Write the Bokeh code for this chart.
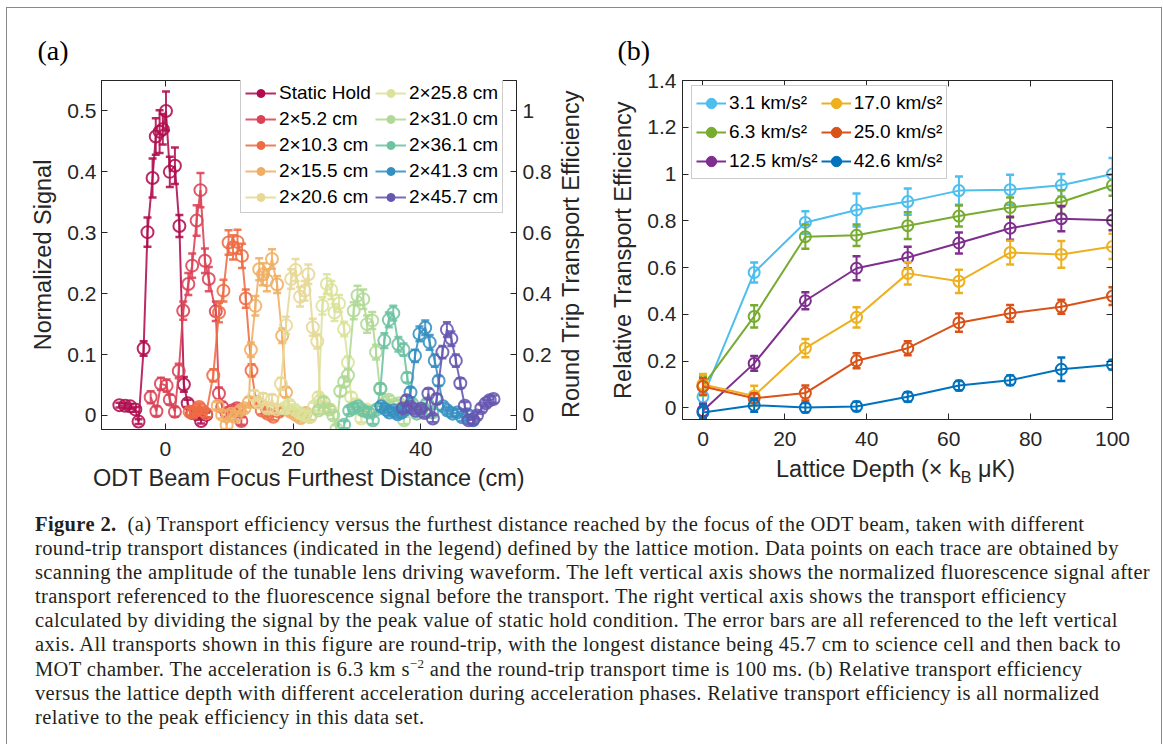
import math
from bokeh.plotting import figure
from bokeh.models import (Range1d, LinearAxis, FixedTicker, CustomJSTickFormatter, Legend,
                          LegendItem, Div, ColumnDataSource)
from bokeh.layouts import column, row
from bokeh.embed import file_html
from bokeh.resources import INLINE

# ---------------- data: panel (a) ----------------
a_names = ["Static Hold", "2\u00d75.2 cm", "2\u00d710.3 cm", "2\u00d715.5 cm", "2\u00d720.6 cm",
           "2\u00d725.8 cm", "2\u00d731.0 cm", "2\u00d736.1 cm", "2\u00d741.3 cm", "2\u00d745.7 cm"]
a_colors = ["#b00c4f", "#dc4256", "#ee6c44", "#efae63", "#e7d896",
            "#dbe39a", "#b1d995", "#6cc3a2", "#3590c2", "#6656b0"]

x_sh = [-7.2, -6.3, -5.5, -4.7, -4.2, -3.4, -2.8, -2.0, -1.5, -0.9, -0.4, 0.1, 0.7, 1.5, 2.2, 2.9, 3.5, 4.2, 4.9, 5.6, 6.4]
y_sh = [0.017, 0.016, 0.015, 0.010, -0.010, 0.110, 0.301, 0.390, 0.458, 0.466, 0.470, 0.500, 0.400, 0.410, 0.311, 0.051, 0.020, 0.004, 0.002, -0.009, 0.001]
e_sh = [0.004, 0.004, 0.004, 0.004, 0.004, 0.012, 0.024, 0.032, 0.030, 0.035, 0.025, 0.032, 0.025, 0.030, 0.018, 0.012, 0.006, 0.005, 0.004, 0.004, 0.004]

x_52 = [-2.3, -1.4, -0.7, 0.2, 0.7, 1.5, 2.1, 2.8, 3.6, 4.2, 4.9, 5.5, 6.2, 6.8, 7.9, 8.4, 8.9, 9.6, 10.4, 11.2, 11.9]
y_52 = [0.030, 0.007, 0.052, 0.049, 0.026, 0.006, 0.073, 0.172, 0.216, 0.246, 0.320, 0.370, 0.254, 0.224, 0.171, 0.036, 0.014, 0.004, 0.008, 0.012, -0.009]
e_52 = [0.010, 0.008, 0.010, 0.010, 0.008, 0.008, 0.012, 0.015, 0.018, 0.020, 0.025, 0.028, 0.020, 0.020, 0.016, 0.010, 0.008, 0.006, 0.006, 0.006, 0.006]

x_103 = [3.8, 4.3, 4.8, 5.3, 5.8, 6.4, 7.5, 8.4, 9.1, 9.9, 10.6, 11.3, 12.0, 12.6, 13.5, 14.2, 15.1, 16.0, 16.9, 17.8]
y_103 = [0.006, 0.004, 0.009, 0.014, 0.008, 0.003, 0.066, 0.169, 0.205, 0.284, 0.276, 0.285, 0.262, 0.192, 0.074, 0.022, 0.008, 0.003, -0.002, 0.006]
e_103 = [0.006, 0.006, 0.006, 0.006, 0.006, 0.006, 0.010, 0.016, 0.018, 0.020, 0.020, 0.020, 0.020, 0.015, 0.010, 0.008, 0.006, 0.006, 0.006, 0.006]

x_155 = [8.2, 8.9, 9.6, 10.3, 11.0, 11.7, 12.4, 13.1, 13.4, 14.1, 14.7, 15.3, 15.9, 16.7, 17.5, 18.3, 18.9, 19.6, 20.4, 21.2, 22.0, 22.7]
y_155 = [0.016, 0.001, -0.016, 0.003, -0.002, 0.008, 0.012, 0.022, 0.108, 0.180, 0.240, 0.232, 0.222, 0.257, 0.215, 0.131, 0.038, 0.006, 0.001, -0.004, 0.004, -0.002]
e_155 = [0.006, 0.006, 0.006, 0.006, 0.006, 0.006, 0.006, 0.008, 0.012, 0.016, 0.018, 0.018, 0.018, 0.016, 0.014, 0.012, 0.008, 0.006, 0.006, 0.006, 0.006, 0.006]

x_206 = [13.9, 14.6, 15.3, 16.0, 16.7, 17.4, 18.1, 18.9, 19.7, 20.4, 21.1, 21.8, 22.4, 23.1, 23.8, 24.3, 25.0, 25.8]
y_206 = [0.033, 0.021, 0.028, 0.012, 0.026, 0.010, 0.052, 0.148, 0.224, 0.239, 0.195, 0.205, 0.232, 0.145, 0.122, 0.025, 0.013, 0.010]
e_206 = [0.008, 0.006, 0.008, 0.006, 0.008, 0.006, 0.010, 0.014, 0.016, 0.018, 0.016, 0.016, 0.016, 0.014, 0.012, 0.008, 0.006, 0.006]

x_258 = [18.6, 19.4, 20.2, 21.0, 21.8, 22.6, 23.3, 24.0, 24.6, 25.3, 26.0, 26.5, 27.2, 28.0, 28.6, 29.1, 29.9, 30.7, 31.5]
y_258 = [0.012, 0.018, 0.010, 0.004, 0.000, -0.003, 0.015, 0.030, 0.180, 0.216, 0.206, 0.169, 0.184, 0.142, 0.087, 0.030, 0.019, -0.005, 0.010]
e_258 = [0.006, 0.006, 0.006, 0.006, 0.006, 0.006, 0.006, 0.008, 0.014, 0.016, 0.015, 0.014, 0.014, 0.012, 0.010, 0.008, 0.006, 0.006, 0.006]

x_310 = [24.0, 24.8, 25.6, 26.3, 26.8, 27.4, 28.0, 28.6, 29.5, 30.1, 31.0, 31.6, 32.4, 33.0, 33.6, 34.3, 35.0, 35.8, 36.6, 37.4]
y_310 = [0.008, 0.022, 0.010, 0.000, -0.022, 0.040, 0.055, 0.066, 0.172, 0.197, 0.191, 0.150, 0.156, 0.104, 0.044, 0.020, 0.026, 0.018, 0.020, -0.008]
e_310 = [0.006, 0.008, 0.006, 0.006, 0.006, 0.008, 0.008, 0.010, 0.014, 0.016, 0.016, 0.014, 0.014, 0.012, 0.008, 0.006, 0.006, 0.006, 0.006, 0.006]

x_361 = [28.0, 28.8, 29.5, 30.2, 31.0, 31.8, 32.5, 33.1, 33.7, 34.3, 35.0, 35.7, 36.5, 37.3, 37.9, 38.6, 39.4, 40.2, 41.0, 41.8]
y_361 = [-0.015, 0.008, 0.012, 0.015, 0.008, 0.005, -0.008, 0.010, 0.044, 0.123, 0.157, 0.168, 0.117, 0.108, 0.062, 0.020, 0.003, 0.012, 0.020, 0.005]
e_361 = [0.006, 0.006, 0.006, 0.006, 0.006, 0.006, 0.006, 0.006, 0.008, 0.012, 0.012, 0.012, 0.012, 0.010, 0.008, 0.006, 0.006, 0.006, 0.006, 0.006]

x_413 = [33.8, 34.5, 35.1, 35.8, 36.4, 37.0, 37.7, 38.4, 39.1, 39.8, 40.7, 41.4, 42.2, 42.8, 43.5, 44.2, 45.0, 45.7, 46.5, 47.3, 48.2]
y_413 = [0.015, 0.010, 0.005, 0.008, 0.002, 0.005, 0.010, 0.038, 0.098, 0.134, 0.144, 0.120, 0.090, 0.057, 0.015, 0.008, 0.003, 0.005, -0.003, 0.002, -0.008]
e_413 = [0.006, 0.006, 0.006, 0.006, 0.006, 0.006, 0.006, 0.008, 0.010, 0.012, 0.012, 0.012, 0.010, 0.008, 0.006, 0.006, 0.006, 0.006, 0.006, 0.006, 0.006]

x_457 = [37.2, 37.8, 38.5, 39.2, 40.0, 40.6, 41.2, 41.9, 42.5, 43.4, 44.1, 44.8, 45.5, 46.2, 46.9, 47.5, 48.2, 48.8, 49.5, 50.2, 50.8, 51.4]
y_457 = [0.012, 0.025, 0.014, 0.008, 0.011, 0.004, 0.036, -0.005, 0.027, 0.104, 0.141, 0.126, 0.090, 0.053, 0.016, -0.008, -0.007, 0.000, 0.012, 0.020, 0.025, 0.027]
e_457 = [0.006, 0.008, 0.006, 0.006, 0.006, 0.006, 0.008, 0.006, 0.008, 0.010, 0.012, 0.012, 0.010, 0.008, 0.006, 0.006, 0.006, 0.006, 0.006, 0.006, 0.006, 0.006]

a_x = [x_sh, x_52, x_103, x_155, x_206, x_258, x_310, x_361, x_413, x_457]
a_y = [y_sh, y_52, y_103, y_155, y_206, y_258, y_310, y_361, y_413, y_457]
a_e = [e_sh, e_52, e_103, e_155, e_206, e_258, e_310, e_361, e_413, e_457]

a_xticks = [0, 20, 40]
a_yticks = [0, 0.1, 0.2, 0.3, 0.4, 0.5]
a_rticks = [0, 0.2, 0.4, 0.6, 0.8, 1.0]

# ---------------- data: panel (b) ----------------
depth = [0, 12.5, 25, 37.5, 50, 62.5, 75, 87.5, 100]
b_names = ["3.1 km/s\u00b2", "6.3 km/s\u00b2", "12.5 km/s\u00b2", "17.0 km/s\u00b2", "25.0 km/s\u00b2", "42.6 km/s\u00b2"]
b_colors = ["#4dbeee", "#77ac30", "#7e2f8e", "#edb120", "#d95319", "#0072bd"]
b31 = [0.047, 0.579, 0.793, 0.846, 0.882, 0.929, 0.933, 0.952, 1.000]
e31 = [0.030, 0.043, 0.048, 0.071, 0.056, 0.060, 0.064, 0.048, 0.068]
b63 = [0.094, 0.391, 0.732, 0.738, 0.779, 0.820, 0.857, 0.880, 0.952]
e63 = [0.040, 0.048, 0.052, 0.046, 0.057, 0.045, 0.043, 0.051, 0.045]
b125 = [-0.013, 0.190, 0.458, 0.597, 0.643, 0.705, 0.768, 0.809, 0.802]
e125 = [0.030, 0.032, 0.036, 0.051, 0.046, 0.045, 0.049, 0.054, 0.043]
b170 = [0.100, 0.051, 0.255, 0.387, 0.575, 0.541, 0.664, 0.656, 0.690]
e170 = [0.045, 0.043, 0.039, 0.043, 0.048, 0.050, 0.051, 0.057, 0.054]
b250 = [0.091, 0.041, 0.063, 0.201, 0.255, 0.364, 0.404, 0.432, 0.478]
e250 = [0.035, 0.020, 0.032, 0.032, 0.030, 0.039, 0.036, 0.030, 0.038]
b426 = [-0.020, 0.011, 0.001, 0.006, 0.047, 0.095, 0.118, 0.165, 0.184]
e426 = [0.030, 0.028, 0.020, 0.020, 0.020, 0.020, 0.020, 0.050, 0.020]
b_y = [b31, b63, b125, b170, b250, b426]
b_e = [e31, e63, e125, e170, e250, e426]
b_xticks = [0, 20, 40, 60, 80, 100]
b_yticks = [0, 0.2, 0.4, 0.6, 0.8, 1.0, 1.2, 1.4]

FONT = "Liberation Sans"
AX = "#262626"
TICK = "21px"
LAB = "23.5px"
fmt_code = "return Number(tick.toFixed(2)).toString();"
NAN = float("nan")


def style_axis(ax, labels=True):
    ax.axis_line_color = AX
    ax.major_tick_line_color = AX
    ax.major_tick_in = 6
    ax.major_tick_out = 0
    ax.minor_tick_line_color = None
    ax.major_label_text_font = FONT
    ax.major_label_text_font_size = TICK
    ax.major_label_text_color = AX
    ax.axis_label_text_font = FONT
    ax.axis_label_text_font_size = LAB
    ax.axis_label_text_font_style = "normal"
    ax.axis_label_text_color = AX
    if labels:
        ax.formatter = CustomJSTickFormatter(code=fmt_code)
    else:
        ax.formatter = CustomJSTickFormatter(code="return '';")
        ax.major_label_text_font_size = "0px"
        ax.major_label_standoff = 0


def draw_series(p, xs, ys, es, color, size, lw, cap, alpha):
    src = ColumnDataSource(dict(x=xs, y=ys,
                                lo=[y - e for y, e in zip(ys, es)],
                                hi=[y + e for y, e in zip(ys, es)]))
    ln = p.line("x", "y", source=src, line_color=color, line_width=lw, line_alpha=alpha)
    p.segment(x0="x", y0="lo", x1="x", y1="hi", source=src, line_color=color,
              line_width=lw, line_alpha=alpha)
    p.scatter("x", "lo", source=src, marker="dash", size=cap, line_color=color,
              line_width=lw + 0.5, line_alpha=alpha)
    p.scatter("x", "hi", source=src, marker="dash", size=cap, line_color=color,
              line_width=lw + 0.5, line_alpha=alpha)
    p.scatter("x", "y", source=src, marker="circle", size=size, fill_color=None,
              line_color=color, line_width=lw, line_alpha=alpha)
    lg_bar = p.scatter(x=[NAN], y=[NAN], marker="dash", angle=math.pi / 2, size=14,
                       line_color=color, line_width=lw + 0.5)
    lg_dot = p.scatter(x=[NAN], y=[NAN], marker="circle", size=6, fill_color=color,
                       line_color=color)
    return [ln, lg_bar, lg_dot]


def base_fig(fw, fh, xr, yr, bl, br, bt, bb):
    p = figure(frame_width=fw, frame_height=fh, x_range=xr, y_range=yr,
               output_backend="svg", toolbar_location=None,
               min_border_left=bl, min_border_right=br, min_border_top=bt, min_border_bottom=bb)
    p.grid.visible = False
    p.outline_line_color = AX
    p.outline_line_width = 1
    p.background_fill_color = "white"
    p.border_fill_color = "white"
    return p


def panel_title(p, text, offset):
    p.title.text = text
    p.title.align = "left"
    p.title.offset = offset
    p.title.text_font = "Liberation Serif"
    p.title.text_font_size = "28px"
    p.title.text_font_style = "normal"
    p.title.text_color = "black"
    p.title.standoff = 29


# ---------------- panel (a) ----------------
pa = base_fig(415, 349, Range1d(-10, 55), Range1d(-0.023, 0.55), 94, 36, 72, 71)
pa.xaxis.axis_label = "ODT Beam Focus Furthest Distance (cm)"
pa.yaxis.axis_label = "Normalized Signal"
pa.xaxis.ticker = FixedTicker(ticks=a_xticks)
pa.yaxis.ticker = FixedTicker(ticks=a_yticks)
for ax in pa.xaxis + pa.yaxis:
    style_axis(ax)
pa.xaxis.major_label_standoff = 12
pa.xaxis.axis_label_standoff = 6
pa.yaxis.major_label_standoff = 5
pa.yaxis.axis_label_standoff = 8

pa.extra_y_ranges = {"eff": Range1d(-0.046, 1.1)}
ax_r = LinearAxis(y_range_name="eff", ticker=FixedTicker(ticks=a_rticks))
style_axis(ax_r)
ax_r.major_label_standoff = 6
pa.add_layout(ax_r, "right")
ax_t = LinearAxis(ticker=FixedTicker(ticks=a_xticks))
style_axis(ax_t, labels=False)
pa.add_layout(ax_t, "above")
panel_title(pa, "(a)", -64)

a_items = []
for xs, ys, es, c, n in zip(a_x, a_y, a_e, a_colors, a_names):
    rs = draw_series(pa, xs, ys, es, c, 12, 2.0, 8, 0.88)
    a_items.append(LegendItem(label=n, renderers=rs))

leg_a = Legend(items=a_items, location=(139, 216), orientation="vertical", nrows=5,
               label_text_font=FONT, label_text_font_size="19px", label_text_color="black",
               label_height=20, glyph_height=20, glyph_width=31, label_standoff=3,
               spacing=4, padding=4, margin=0, border_line_color="#999999",
               border_line_width=1, background_fill_alpha=1.0)
pa.add_layout(leg_a)

# right-hand axis title of panel (a), reading bottom-to-top
rlab_a = Div(text=("<div style=\"margin-top:72px; width:34px; height:349px; writing-mode:vertical-rl; "
                   "transform:rotate(180deg); text-align:center; line-height:34px; "
                   "font-family:'Liberation Sans'; font-size:23.5px; color:#262626; white-space:nowrap;\">"
                   "Round Trip Transport Efficiency</div>"),
             width=34, height=492, margin=0)

# ---------------- panel (b) ----------------
pb = base_fig(430, 339, Range1d(-5, 100), Range1d(-0.05, 1.4), 94, 49, 72, 44)
pb.yaxis.axis_label = "Relative Transport Efficiency"
pb.xaxis.ticker = FixedTicker(ticks=b_xticks)
pb.yaxis.ticker = FixedTicker(ticks=b_yticks)
for ax in pb.xaxis + pb.yaxis:
    style_axis(ax)
pb.xaxis.major_label_standoff = 12
pb.yaxis.major_label_standoff = 6
pb.yaxis.axis_label_standoff = 8
bt = LinearAxis(ticker=FixedTicker(ticks=b_xticks))
style_axis(bt, labels=False)
pb.add_layout(bt, "above")
br = LinearAxis(ticker=FixedTicker(ticks=b_yticks))
style_axis(br, labels=False)
pb.add_layout(br, "right")
panel_title(pb, "(b)", -65)

b_items = []
for ys, es, c, n in zip(b_y, b_e, b_colors, b_names):
    rs = draw_series(pb, depth, ys, es, c, 11, 2.0, 8, 1.0)
    b_items.append(LegendItem(label=n, renderers=rs))

leg_b = Legend(items=b_items, location=(9, 240), orientation="vertical", nrows=3,
               label_text_font=FONT, label_text_font_size="19px", label_text_color="black",
               label_height=26, glyph_height=26, glyph_width=30, label_standoff=3,
               spacing=3, padding=4, margin=0, border_line_color="#999999",
               border_line_width=1, background_fill_alpha=1.0)
pb.add_layout(leg_b)

# x-axis title of panel (b), with subscript B
xlab_b = Div(text=("<div style=\"font-family:'Liberation Sans'; font-size:23.5px; color:#262626; "
                   "line-height:1; position:relative; top:-5px; padding-left:188px; white-space:nowrap;\">"
                   "Lattice Depth (\u00d7 k<sub style='font-size:16px; line-height:0'>B</sub> "
                   "\u03bcK)</div>"),
             width=573, height=37, margin=0)

# ---------------- caption ----------------
cap_lines = [
    "<b>Figure 2.</b>&nbsp;&nbsp;(a) Transport efficiency versus the furthest distance reached by the focus of the ODT beam, taken with different",
    "round-trip transport distances (indicated in the legend) defined by the lattice motion. Data points on each trace are obtained by",
    "scanning the amplitude of the tunable lens driving waveform. The left vertical axis shows the normalized fluorescence signal after",
    "transport referenced to the fluorescence signal before the transport. The right vertical axis shows the transport efficiency",
    "calculated by dividing the signal by the peak value of static hold condition. The error bars are all referenced to the left vertical",
    "axis. All transports shown in this figure are round-trip, with the longest distance being 45.7 cm to science cell and then back to",
    "MOT chamber. The acceleration is 6.3 km s<sup style='font-size:13px; line-height:0'>\u22122</sup> and the round-trip transport time is 100 ms. (b) Relative transport efficiency",
    "versus the lattice depth with different acceleration during acceleration phases. Relative transport efficiency is all normalized",
    "relative to the peak efficiency in this data set.",
]
cap_html = ("<div style=\"font-family:'Liberation Serif'; font-size:20.5px; letter-spacing:0.37px; "
            "line-height:24.1px; color:#231f20; padding:12px 0 0 28px; white-space:nowrap;\">"
            + "<br>".join(cap_lines) + "</div>")
cap = Div(text=cap_html, width=1152, height=244, margin=0)

layout = column(row(pa, rlab_a, column(pb, xlab_b)), cap,
                styles={"margin": "7px 0 0 6px",
                        "border-top": "1px solid #8a8a8a", "border-left": "1px solid #8a8a8a",
                        "border-right": "1px solid #8a8a8a", "background-color": "white"})

open("out.html", "w").write(file_html(layout, INLINE))
